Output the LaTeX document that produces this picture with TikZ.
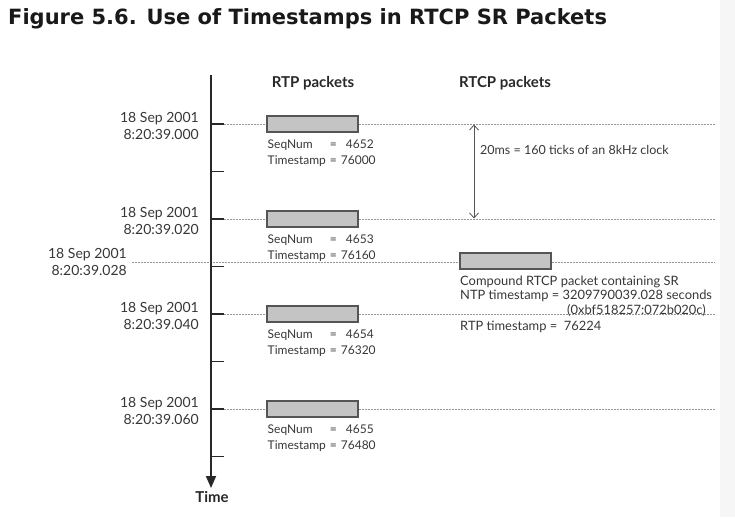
\documentclass[tikz,border=0pt]{standalone}
\usepackage{fontspec}
\setmainfont{Lato}
\newfontfamily\titlefont{DejaVu Sans}
\usepackage{tikz}
\usetikzlibrary{arrows.meta,positioning,calc}
\definecolor{rtpink}{RGB}{40,40,40}
\definecolor{rtptext}{RGB}{55,55,55}
\definecolor{rtpgrid}{RGB}{150,150,150}
\definecolor{rtpfill}{RGB}{196,196,196}
\definecolor{rtpedge}{RGB}{85,85,85}
\definecolor{rtpside}{RGB}{246,246,246}
\tikzset{
  titletext/.style={
    inner sep=0pt,
    font=\titlefont\bfseries\fontsize{21}{25}\selectfont,
    text=black!90
  },
  headtext/.style={
    inner sep=0pt,
    font=\bfseries\fontsize{15}{18}\selectfont,
    text=rtpink
  },
  datetext/.style={
    inner sep=0pt,
    align=right,
    font=\fontsize{14}{17}\selectfont,
    text=rtptext
  },
  infotext/.style={
    inner sep=0pt,
    align=left,
    font=\fontsize{12}{16}\selectfont,
    text=rtptext
  },
  pktbox/.style={
    draw=rtpedge,
    fill=rtpfill,
    line width=1.1pt,
    minimum width=91pt,
    minimum height=16pt,
    inner sep=0pt
  },
  gridline/.style={rtpgrid,line width=0.7pt,dash pattern=on 2pt off 1pt},
  tickmark/.style={rtpink,line width=1.8pt},
  timeaxis/.style={-{Triangle[length=12pt,width=10pt]},rtpink,line width=1.8pt},
  spanarr/.style={{Straight Barb[length=5pt,width=9pt]}-{Straight Barb[length=5pt,width=9pt]},rtpedge,line width=0.8pt}
}
\begin{document}
\begin{tikzpicture}[x=1pt,y=-1pt]
        \useasboundingbox (0,0) rectangle (735,517);
        \fill[rtpside] (720,0) rectangle (735,517);

        \node[titletext,anchor=base west] (title) at (8,24) {Figure 5.6. Use of Timestamps in RTCP SR Packets};

        % time axis
        \coordinate (axtop) at (211,75);
        \coordinate (axend) at (211,488);
        \node[headtext,anchor=north] (timelbl) at (212,491) {Time};

        \node[headtext] (rtphead) at (313,83) {RTP packets};
        \node[headtext] (rtcphead) at (505,83) {RTCP packets};

        % minor ticks
        \foreach \y in {171.5,266.5,361.5,456.5}
          \draw[tickmark] (211,\y) -- (224,\y);

        % RTCP report instant
        \coordinate (srl) at (132,262);
        \coordinate (srr) at (715,262);
        \draw[gridline] (srl) -- (srr);
        \node[datetext,anchor=east] (srdate) at (127,261.5) {18 Sep 2001\\8:20:39.028};
        \node[pktbox] (rtcp) at (505.5,261) {};

        % RTP packets every 20ms
        \foreach \y/\seq/\ts/\t [count=\i] in {124/4652/76000/000,219/4653/76160/020,314/4654/76320/040,409/4655/76480/060} {
          \coordinate (gl\i) at (224,\y);
          \coordinate (gr\i) at (715,\y);
          \draw[gridline] (gl\i) -- (gr\i);
          \draw[tickmark] (211,\y) -- (gl\i);
          \node[pktbox] (rtp\i) at (312.5,\y) {};
          \node[infotext,anchor=north west] (info\i) at (267.5,\y+13) {%
            \begin{tabular}{@{}l@{\hspace{4pt}}l@{\hspace{4pt}}l@{}}
              SeqNum & = & \hspace{5pt}\seq\\
              Timestamp & = & \ts
            \end{tabular}};
          \node[datetext,anchor=east] (date\i) at (199,\y+1.5) {18 Sep 2001\\8:20:39.\t};
        }

        \draw[timeaxis] (axtop) -- (axend);

        % 20ms span
        \coordinate (spantop) at (474,124.5);
        \coordinate (spanbot) at (474,218.5);
        \draw[spanarr] (spantop) -- (spanbot);
        \node[infotext,anchor=west,font=\fontsize{12.5}{15}\selectfont] (spanlbl) at (480,150) {20ms = 160 ticks of an 8kHz clock};

        \node[infotext,anchor=west,font=\fontsize{12.9}{15}\selectfont] (srline1) at (460,282) {Compound RTCP packet containing SR};
        \node[infotext,anchor=west,font=\fontsize{12.9}{15}\selectfont] (srline2) at (460,296) {NTP timestamp = 3209790039.028 seconds};
        \node[infotext,anchor=west,font=\fontsize{12.9}{15}\selectfont] (srline3) at (567,310) {(0xbf518257:072b020c)};
        \node[infotext,anchor=west,font=\fontsize{12.9}{15}\selectfont] (srline4) at (460,327) {RTP timestamp = \ 76224};
      \end{tikzpicture}
\end{document}
